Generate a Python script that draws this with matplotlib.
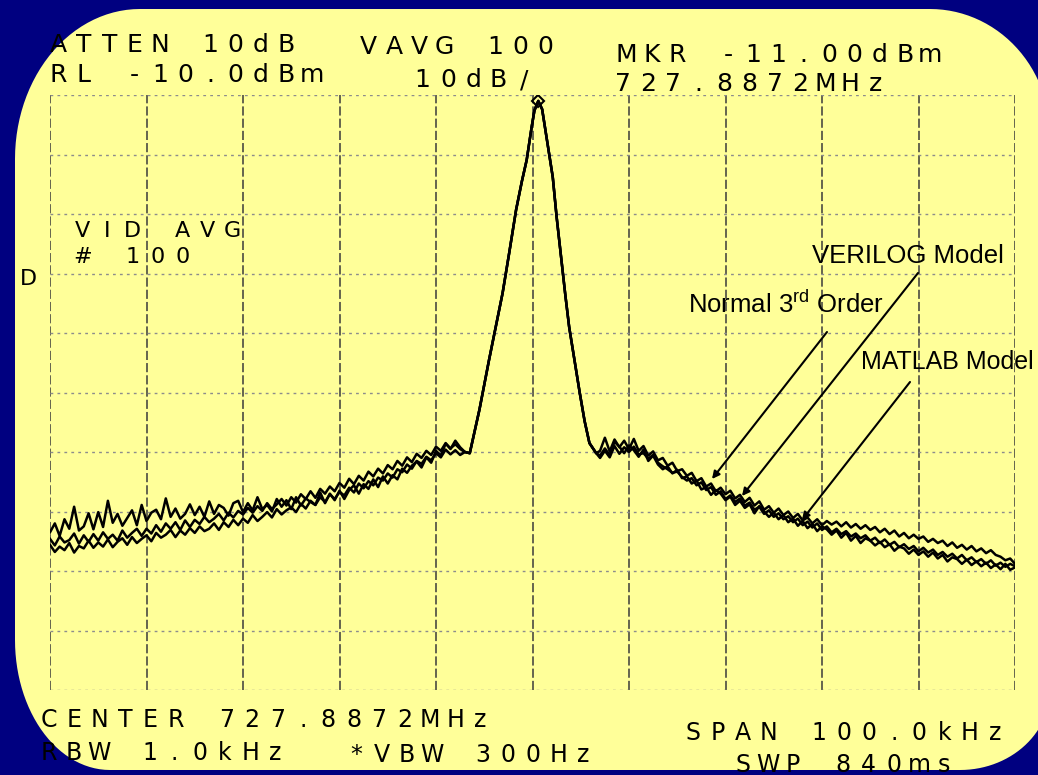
import numpy as np
import matplotlib.pyplot as plt
from matplotlib.path import Path
from matplotlib.patches import PathPatch

W, H = 1038, 775

# frequency offset from center 727.8872 MHz, in kHz
left_khz = np.arange(-50.0, -6.9, 0.5)
right_khz = np.arange(7.0, 50.1, 0.5)

# carrier peak (same for all three traces)
peak_khz = [-6.5, -5.5, -4.5, -3.8, -3.1, -2.4, -1.7, -1.1, -0.6, -0.1, 0.2, 0.6,
            1.0, 1.5, 2.1, 2.5, 3.0, 3.4, 3.8, 4.4, 4.9, 5.4, 5.9, 6.6]
peak_db = [-70.2, -62.9, -54.5, -48.9, -43.3, -36.4, -29.3, -24.5, -20.9, -15.5, -12.6, -11.0,
           -12.4, -17.6, -23.8, -30.5, -37.7, -43.6, -49.0, -55.0, -60.1, -64.8, -68.5, -70.2]

# noise skirts, left side (-50 .. -7 kHz)
normal_left = [
    -83.5, -82.0, -84.1, -81.3, -82.9, -79.2, -83.2, -82.5, -80.3, -83.0,
    -80.1, -82.6, -78.2, -81.9, -80.4, -82.4, -81.1, -79.8, -82.3, -78.9,
    -81.6, -80.2, -79.7, -81.3, -77.8, -80.9, -79.5, -81.2, -80.4, -78.8,
    -80.6, -79.2, -80.9, -78.3, -80.4, -78.9, -79.4, -80.7, -78.6, -78.2,
    -80.1, -78.6, -79.8, -77.6, -79.6, -78.9, -80.0, -77.9, -79.2, -78.1,
    -79.6, -77.6, -79.0, -77.8, -78.4, -78.9, -76.8, -78.6, -77.0, -78.1,
    -76.5, -77.9, -76.4, -75.6, -77.0, -75.4, -76.2, -74.6, -75.9, -74.1,
    -75.3, -73.9, -74.6, -72.8, -73.5, -72.3, -71.6, -72.6, -70.9, -71.8,
    -69.8, -70.6, -68.6, -69.5, -68.1, -69.2, -70.0]
verilog_left = [
    -85.6, -86.8, -85.9, -86.5, -85.3, -86.9, -85.8, -86.2, -84.9, -86.1,
    -85.2, -85.9, -84.7, -86.0, -85.1, -84.5, -85.6, -84.3, -85.3, -84.6,
    -84.0, -85.0, -83.6, -84.4, -83.9, -83.1, -84.3, -83.2, -83.9, -82.8,
    -83.6, -82.5, -83.3, -82.9, -82.0, -83.1, -81.8, -82.6, -81.4, -82.3,
    -81.2, -81.9, -80.6, -81.6, -80.9, -80.1, -81.0, -79.6, -80.5, -79.8,
    -79.3, -80.1, -78.7, -79.5, -78.2, -78.9, -77.6, -78.4, -77.1, -77.9,
    -76.7, -77.3, -76.0, -76.8, -75.3, -76.1, -74.9, -75.6, -74.3, -74.8,
    -73.6, -74.3, -72.9, -73.4, -72.1, -72.8, -71.5, -72.0, -70.8, -71.4,
    -70.2, -70.9, -69.6, -70.4, -69.7, -70.5, -70.0]
matlab_left = [
    -84.6, -85.7, -84.2, -85.2, -84.8, -83.7, -85.4, -84.0, -85.1, -83.8,
    -84.9, -83.5, -84.6, -83.9, -84.9, -83.2, -84.4, -83.6, -82.9, -84.1,
    -82.9, -83.7, -82.3, -83.4, -82.0, -82.9, -81.8, -83.1, -81.5, -82.6,
    -81.4, -82.1, -80.9, -81.8, -81.2, -80.4, -81.5, -80.2, -81.0, -79.9,
    -80.5, -79.4, -80.2, -79.1, -79.9, -78.6, -79.6, -78.8, -77.9, -79.0,
    -77.6, -78.5, -77.1, -77.9, -76.6, -77.7, -76.2, -77.0, -75.8, -76.6,
    -75.2, -76.0, -74.5, -75.4, -74.0, -74.8, -73.3, -74.1, -72.8, -73.6,
    -72.2, -72.9, -71.5, -72.3, -70.9, -71.7, -70.3, -71.0, -69.8, -70.5,
    -69.1, -69.8, -68.5, -69.4, -68.7, -69.5, -70.0]

# noise skirts, right side (7 .. 50 kHz)
normal_right = [
    -70.6, -69.4, -70.5, -68.3, -69.1, -70.2, -68.9, -69.7, -70.8, -69.6,
    -71.5, -70.6, -72.1, -72.9, -72.4, -73.6, -73.0, -74.4, -74.1, -75.3,
    -74.8, -76.3, -75.9, -77.2, -76.4, -77.0, -78.1, -77.5, -78.9, -78.2,
    -79.4, -78.8, -80.3, -79.1, -80.0, -80.9, -80.2, -81.3, -80.6, -81.8,
    -81.2, -82.4, -81.6, -82.8, -82.1, -83.3, -82.5, -83.0, -83.9, -83.2,
    -84.4, -83.6, -84.9, -84.1, -85.3, -84.5, -84.9, -85.7, -85.1, -86.0,
    -85.5, -86.6, -85.9, -86.2, -87.1, -86.4, -87.3, -86.7, -87.6, -86.9,
    -87.9, -87.3, -88.4, -87.7, -88.0, -88.8, -88.1, -89.0, -88.4, -89.2,
    -88.6, -89.5, -88.9, -89.7, -88.8, -89.8, -89.4]
verilog_right = [
    -69.8, -67.6, -69.9, -67.9, -69.2, -68.1, -69.5, -67.8, -69.8, -69.0,
    -70.6, -69.9, -71.4, -71.0, -72.3, -71.8, -73.2, -72.9, -74.0, -73.5,
    -74.9, -74.4, -75.8, -75.3, -76.6, -76.0, -77.1, -76.5, -77.8, -77.2,
    -78.4, -77.7, -79.0, -78.3, -79.7, -79.1, -80.2, -79.5, -80.6, -80.0,
    -81.1, -80.4, -81.5, -81.0, -82.0, -81.3, -82.3, -81.6, -82.2, -81.7,
    -82.5, -81.8, -82.7, -82.1, -82.9, -82.3, -83.1, -82.6, -83.5, -82.9,
    -83.8, -83.2, -84.2, -83.6, -84.5, -83.9, -84.6, -84.2, -85.1, -84.6,
    -85.3, -84.9, -85.8, -85.2, -86.1, -85.6, -86.4, -85.8, -86.7, -86.2,
    -87.0, -86.5, -87.3, -87.6, -88.2, -87.9, -88.8]
matlab_right = [
    -71.0, -69.8, -70.9, -69.0, -70.3, -69.2, -70.0, -69.1, -70.4, -70.2,
    -71.1, -70.5, -71.8, -72.4, -72.9, -73.5, -73.3, -74.2, -74.8, -74.4,
    -75.6, -75.1, -76.4, -75.9, -77.2, -76.6, -77.9, -77.3, -78.4, -77.8,
    -79.0, -78.5, -79.7, -79.2, -80.4, -79.8, -80.9, -80.3, -81.3, -80.8,
    -81.8, -81.2, -82.3, -81.7, -82.7, -82.0, -83.1, -82.5, -83.5, -82.9,
    -83.8, -83.3, -84.2, -83.7, -84.5, -84.0, -84.9, -84.4, -85.3, -84.7,
    -85.6, -85.1, -86.0, -85.5, -86.3, -85.8, -86.7, -86.1, -86.9, -86.4,
    -87.3, -86.8, -87.6, -87.1, -87.9, -87.3, -88.2, -87.7, -88.5, -88.0,
    -88.8, -88.2, -89.1, -88.6, -89.3, -88.8, -89.2]

marker_khz, marker_db = 0.6, -11.0

plt.rcParams['mathtext.fontset'] = 'custom'
plt.rcParams['mathtext.rm'] = 'Liberation Sans'

fig = plt.figure(figsize=(W / 100, H / 100), dpi=100, facecolor='#000080')

# yellow "slide" panel with unequal rounded corners, pixel units
bg = fig.add_axes([0, 0, 1, 1])
bg.set_xlim(0, W)
bg.set_ylim(H, 0)
bg.axis('off')


def corner(cx, cy, rx, ry, a0, a1):
    t = np.radians(np.linspace(a0, a1, 30))
    return np.column_stack([cx + rx * np.cos(t), cy + ry * np.sin(t)])


x0, x1, y0, y1 = 15, 1050, 9, 770
pts = np.vstack([
    corner(x0 + 125, y0 + 150, 125, 150, 180, 270),
    corner(x1 - 120, y0 + 126, 120, 126, 270, 360),
    corner(x1 - 90, y1 - 80, 90, 80, 0, 90),
    corner(x0 + 95, y1 - 130, 95, 130, 90, 180),
])
bg.add_patch(PathPatch(Path(np.vstack([pts, pts[:1]]), closed=True),
                       fc='#FFFF99', ec='none'))

# analyzer screen
ax = fig.add_axes([50 / W, 1 - 690 / H, 965 / W, 595 / H])
ax.set_zorder(2)
ax.patch.set_alpha(0)
ax.set_xlim(-50, 50)
ax.set_ylim(-110, -10)
ax.set_xticks(np.arange(-50, 51, 10))
ax.set_yticks(np.arange(-110, -9, 10))
ax.tick_params(labelleft=False, labelbottom=False, length=0)
for s in ax.spines.values():
    s.set_visible(False)
ax.xaxis.grid(True, ls=(0, (6, 2)), color='#3a3a3a', lw=1.1)
ax.yaxis.grid(True, ls=(0, (2, 3)), color='#8c8c8c', lw=1.0)

traces = [(normal_left, normal_right), (verilog_left, verilog_right),
          (matlab_left, matlab_right)]
for lft, rgt in traces:
    f = np.concatenate([left_khz, peak_khz, right_khz])
    db = np.concatenate([lft, peak_db, rgt])
    ax.plot(f, db, color='black', lw=1.8)
ax.plot(marker_khz, marker_db, marker='D', ms=6, mfc='none', mec='black', mew=1.5)

# overlay for the text and arrows
ov = fig.add_axes([0, 0, 1, 1])
ov.set_zorder(3)
ov.patch.set_alpha(0)
ov.set_xlim(0, W)
ov.set_ylim(H, 0)
ov.axis('off')


def instr(x, y, s, pitch=25.3, size=18):
    # fixed-pitch instrument lettering
    for i, ch in enumerate(s):
        ov.text(x + (i + 0.5) * pitch, y, ch, ha='center', va='baseline',
                fontsize=size, family='DejaVu Sans', color='black')


instr(46, 52, 'ATTEN 10dB')
instr(356, 54, 'VAVG 100')
instr(614, 62, 'MKR -11.00dBm')
instr(46, 82, 'RL -10.0dBm')
instr(410, 87, '10dB/')
instr(610, 91, '727.8872MHz')
instr(70, 237, 'VID AVG', pitch=25.0, size=16)
instr(70, 263, '# 100', pitch=25.0, size=16)
instr(16, 285, 'D', size=16)
instr(36, 727, 'CENTER 727.8872MHz', pitch=25.4, size=17)
instr(36, 760, 'RBW 1.0kHz', pitch=25.2, size=17)
instr(344, 762, '*VBW 300Hz', pitch=25.2, size=17)
instr(680, 740, 'SPAN 100.0kHz', pitch=25.2, size=17)
instr(730, 772, 'SWP 840ms', pitch=25.2, size=17)

lab = dict(fontsize=18.5, family='Liberation Sans', color='black', va='baseline')
ov.text(812, 263, 'VERILOG Model', **lab)
ov.text(688, 313, r'Normal 3$^{\mathrm{rd}}$ Order', **lab)
ov.text(1034, 369, 'MATLAB Model', ha='right',
        **dict(lab, fontsize=18))

arr = dict(arrowstyle='-|>', color='black', lw=1.5, mutation_scale=11,
           shrinkA=0, shrinkB=0)
ov.annotate('', xy=(712, 479), xytext=(827, 332), arrowprops=arr)
ov.annotate('', xy=(742, 496), xytext=(918, 273), arrowprops=arr)
ov.annotate('', xy=(802, 520), xytext=(910, 382), arrowprops=arr)

fig.savefig('out.png', dpi=100, facecolor=fig.get_facecolor())
